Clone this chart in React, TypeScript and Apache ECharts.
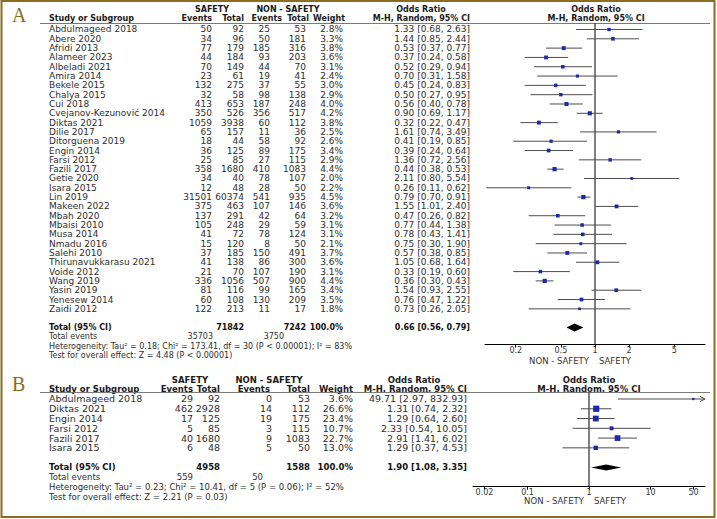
import React, { useEffect, useRef } from "react";
import * as echarts from "echarts";

// ---------- Panel A data ----------
const studiesA = [
  "Abdulmageed 2018", "Abere 2020", "Afridi 2013", "Alameer 2023", "Albeladi 2021", "Amira 2014",
  "Bekele 2015", "Chalya 2015", "Cui 2018", "Cvejanov-Kezunović 2014", "Diktas 2021", "Dilie 2017",
  "Ditorguena 2019", "Engin 2014", "Farsi 2012", "Fazili 2017", "Getie 2020", "Isara 2015", "Lin 2019",
  "Makeen 2022", "Mbah 2020", "Mbaisi 2010", "Musa 2014", "Nmadu 2016", "Salehi 2010",
  "Thirunavukkarasu 2021", "Voide 2012", "Wang 2019", "Yasin 2019", "Yenesew 2014", "Zaidi 2012",
];
const safeEventsA = [50, 34, 77, 44, 70, 23, 132, 32, 413, 350, 1059, 65, 18, 36, 25, 358, 34, 12, 31501, 375, 137, 105, 41, 15, 37, 41, 21, 336, 81, 60, 122];
const safeTotalA = [92, 96, 179, 184, 149, 61, 275, 58, 653, 526, 3938, 157, 44, 125, 85, 1680, 40, 48, 60374, 463, 291, 248, 72, 120, 185, 138, 70, 1056, 116, 108, 213];
const nonEventsA = [25, 50, 185, 93, 44, 19, 37, 98, 187, 356, 60, 11, 58, 89, 27, 410, 78, 28, 541, 107, 42, 29, 78, 8, 150, 86, 107, 507, 99, 130, 11];
const nonTotalA = [53, 181, 316, 203, 70, 41, 55, 138, 248, 517, 112, 36, 92, 175, 115, 1083, 107, 50, 935, 146, 64, 59, 124, 50, 491, 300, 190, 900, 165, 209, 17];
const weightA = [2.8, 3.3, 3.8, 3.6, 3.1, 2.4, 3.0, 2.9, 4.0, 4.2, 3.8, 2.5, 2.6, 3.4, 2.9, 4.4, 2.0, 2.2, 4.5, 3.6, 3.2, 3.1, 3.1, 2.1, 3.7, 3.6, 3.1, 4.4, 3.4, 3.5, 1.8];
const orA = [1.33, 1.44, 0.53, 0.37, 0.52, 0.70, 0.45, 0.50, 0.56, 0.90, 0.32, 1.61, 0.41, 0.39, 1.36, 0.44, 2.11, 0.26, 0.79, 1.55, 0.47, 0.77, 0.78, 0.75, 0.57, 1.05, 0.33, 0.36, 1.54, 0.76, 0.73];
const loA = [0.68, 0.85, 0.37, 0.24, 0.29, 0.31, 0.24, 0.27, 0.40, 0.69, 0.22, 0.74, 0.19, 0.24, 0.72, 0.38, 0.80, 0.11, 0.70, 1.01, 0.26, 0.44, 0.43, 0.30, 0.38, 0.68, 0.19, 0.30, 0.93, 0.47, 0.26];
const hiA = [2.63, 2.44, 0.77, 0.58, 0.94, 1.58, 0.83, 0.95, 0.78, 1.17, 0.47, 3.49, 0.85, 0.64, 2.56, 0.53, 5.54, 0.62, 0.91, 2.40, 0.82, 1.38, 1.41, 1.90, 0.85, 1.64, 0.60, 0.43, 2.55, 1.22, 2.05];
const totalOrA = [0.66, 0.56, 0.79];
const totalNA = [71842, 7242];
const totalEventsA = [35703, 3750];
const hetA = "Heterogeneity: Tau² = 0.18; Chi² = 173.41, df = 30 (P < 0.00001); I² = 83%";
const testA = "Test for overall effect: Z = 4.48 (P < 0.00001)";
const ticksA = [0.2, 0.5, 1, 2, 5];

// ---------- Panel B data ----------
const studiesB = ["Abdulmageed 2018", "Diktas 2021", "Engin 2014", "Farsi 2012", "Fazili 2017", "Isara 2015"];
const safeEventsB = [29, 462, 17, 5, 40, 6];
const safeTotalB = [92, 2928, 125, 85, 1680, 48];
const nonEventsB = [0, 14, 19, 3, 9, 5];
const nonTotalB = [53, 112, 175, 115, 1083, 50];
const weightB = [3.6, 26.6, 23.4, 10.7, 22.7, 13.0];
const orB = [49.71, 1.31, 1.29, 2.33, 2.91, 1.29];
const loB = [2.97, 0.74, 0.64, 0.54, 1.41, 0.37];
const hiB = [832.93, 2.32, 2.60, 10.05, 6.02, 4.53];
const totalOrB = [1.90, 1.08, 3.35];
const totalNB = [4958, 1588];
const totalEventsB = [559, 50];
const hetB = "Heterogeneity: Tau² = 0.23; Chi² = 10.41, df = 5 (P = 0.06); I² = 52%";
const testB = "Test for overall effect: Z = 2.21 (P = 0.03)";
const ticksB = [0.02, 0.1, 1, 10, 50];

// ---------- styling / layout ----------
const FF = '"DejaVu Sans", sans-serif';
const GOLD = "#8c6c1e";
const TXT = "#2e2e2e";

const f2 = (v: number) => v.toFixed(2);
const orText = (o: number, l: number, h: number) => `${f2(o)} [${f2(l)}, ${f2(h)}]`;

function txt(x: number, y: number, text: string, align: string, font: string, fill = TXT): any {
  return {
    type: "text",
    x,
    y,
    silent: true,
    style: { text, font, fill, align, textAlign: align, verticalAlign: "middle", textVerticalAlign: "middle" },
  };
}

const panelA = {
  names: studiesA, se: safeEventsA, st: safeTotalA, ne: nonEventsA, nt: nonTotalA, w: weightA,
  or: orA, lo: loA, hi: hiA, tot: totalOrA, totN: totalNA, totE: totalEventsA, het: hetA, test: testA,
  cols: { name: 49, se: 212, st: 244, ne: 270, nt: 306, w: 343, or: 470, totEse: 213, totEne: 284 },
  k: 2.0, rowFont: `9px ${FF}`, boldFont: `bold 8px ${FF}`, footFont: `8px ${FF}`,
  yMin: -0.644, yMax: 33.83, dh: 4,
};
const panelB = {
  names: studiesB, se: safeEventsB, st: safeTotalB, ne: nonEventsB, nt: nonTotalB, w: weightB,
  or: orB, lo: loB, hi: hiB, tot: totalOrB, totN: totalNB, totE: totalEventsB, het: hetB, test: testB,
  cols: { name: 49, se: 193, st: 220, ne: 272, nt: 310, w: 353, or: 467, totEse: 193, totEne: 263 },
  k: 1.2, rowFont: `9.5px ${FF}`, boldFont: `bold 8.5px ${FF}`, footFont: `8.5px ${FF}`,
  yMin: -0.665, yMax: 8.976, dh: 3,
};

function studyRender(p: any) {
  return (params: any, api: any) => {
    const i = params.dataIndex;
    const cs = params.coordSys;
    const y = api.coord([0, api.value(3)])[1];
    const xo = api.coord([api.value(0), 0])[0];
    const xlRaw = api.coord([api.value(1), 0])[0];
    const xhRaw = api.coord([api.value(2), 0])[0];
    const L = cs.x, R = cs.x + cs.width;
    const xl = Math.max(L, xlRaw), xh = Math.min(R, xhRaw);
    const ch: any[] = [];
    ch.push({ type: "line", shape: { x1: xl, y1: y, x2: xh, y2: y }, style: { stroke: "#4d4d4d", lineWidth: 1 } });
    if (xhRaw > R) {
      ch.push({ type: "polyline", shape: { points: [[R - 5, y - 2.5], [R, y], [R - 5, y + 2.5]] }, style: { stroke: "#4d4d4d", lineWidth: 1, fill: null } });
    }
    const s = p.k * Math.sqrt(p.w[i]);
    ch.push({ type: "rect", shape: { x: xo - s / 2, y: y - s / 2, width: s, height: s }, style: { fill: "#1d28a8" } });
    const c = p.cols;
    ch.push(txt(c.name, y, p.names[i], "left", p.rowFont));
    ch.push(txt(c.se, y, String(p.se[i]), "right", p.rowFont));
    ch.push(txt(c.st, y, String(p.st[i]), "right", p.rowFont));
    ch.push(txt(c.ne, y, String(p.ne[i]), "right", p.rowFont));
    ch.push(txt(c.nt, y, String(p.nt[i]), "right", p.rowFont));
    ch.push(txt(c.w, y, p.w[i].toFixed(1) + "%", "right", p.rowFont));
    ch.push(txt(c.or, y, orText(p.or[i], p.lo[i], p.hi[i]), "right", p.rowFont));
    return { type: "group", children: ch };
  };
}

function totalRender(p: any) {
  return (params: any, api: any) => {
    const r = api.value(3);
    const y = api.coord([0, r])[1];
    const xo = api.coord([api.value(0), 0])[0];
    const xl = api.coord([api.value(1), 0])[0];
    const xh = api.coord([api.value(2), 0])[0];
    const x0 = api.coord([0, 0])[0];
    const top = api.coord([0, p.yMin])[1];
    const bot = api.coord([0, p.yMax])[1];
    const c = p.cols;
    const ch: any[] = [];
    ch.push({ type: "line", shape: { x1: x0, y1: top, x2: x0, y2: bot }, style: { stroke: "#000", lineWidth: 1 } });
    ch.push({ type: "polygon", shape: { points: [[xl, y], [xo, y - p.dh], [xh, y], [xo, y + p.dh]] }, style: { fill: "#000" } });
    ch.push(txt(c.name, y, "Total (95% CI)", "left", p.boldFont, "#111"));
    ch.push(txt(c.st, y, String(p.totN[0]), "right", p.boldFont, "#111"));
    ch.push(txt(c.nt, y, String(p.totN[1]), "right", p.boldFont, "#111"));
    ch.push(txt(c.w, y, "100.0%", "right", p.boldFont, "#111"));
    ch.push(txt(c.or, y, orText(p.tot[0], p.tot[1], p.tot[2]), "right", p.boldFont, "#111"));
    const y1 = api.coord([0, r + 1])[1];
    const y2 = api.coord([0, r + 2])[1];
    const y3 = api.coord([0, r + 3])[1];
    ch.push(txt(c.name, y1, "Total events", "left", p.footFont));
    ch.push(txt(c.totEse, y1, String(p.totE[0]), "right", p.footFont));
    ch.push(txt(c.totEne, y1, String(p.totE[1]), "right", p.footFont));
    ch.push(txt(c.name, y2, p.het, "left", p.footFont));
    ch.push(txt(c.name, y3, p.test, "left", p.footFont));
    return { type: "group", children: ch };
  };
}

const lg = (v: number) => Math.log10(v);
const tickFmt = (v: number) => String(parseFloat(Math.pow(10, v).toPrecision(2)));

function xAxisFor(gridIndex: number, min: number, max: number, ticks: number[]) {
  const cv = ticks.map(lg);
  return {
    gridIndex, type: "value", min, max, position: "bottom",
    axisLine: { show: true, onZero: false, lineStyle: { color: "#000", width: 1 } },
    axisTick: { show: true, customValues: cv, length: 3, lineStyle: { color: "#000" } },
    axisLabel: { show: true, customValues: cv, formatter: tickFmt, fontSize: 8, fontFamily: FF, color: "#333", margin: 1.5 },
    splitLine: { show: false },
  };
}

function header(y1: number, y2: number, lineY: number, cfg: any) {
  const b = (x: number, y: number, t: string, a: string) => txt(x, y, t, a, cfg.font, "#1a1a1a");
  return [
    b(cfg.safeC, y1, "SAFETY", "center"),
    b(cfg.nonC, y1, "NON - SAFETY", "center"),
    b(cfg.orC, y1, "Odds Ratio", "center"),
    b(cfg.plotC, y1, "Odds Ratio", "center"),
    b(49, y2, "Study or Subgroup", "left"),
    b(cfg.se, y2, "Events", "right"),
    b(cfg.st, y2, "Total", "right"),
    b(cfg.ne, y2, "Events", "right"),
    b(cfg.nt, y2, "Total", "right"),
    b(cfg.w, y2, "Weight", "right"),
    b(cfg.or, y2, "M-H, Random, 95% CI", "right"),
    b(cfg.plotC, y2, "M-H, Random, 95% CI", "center"),
    { type: "line", silent: true, shape: { x1: 40, y1: lineY, x2: 710, y2: lineY }, style: { stroke: "#7a7a7a", lineWidth: 1 } },
  ];
}

export default function App() {
  const ref = useRef<HTMLDivElement>(null);
  useEffect(() => {
    if (!ref.current) return;
    const chart = echarts.init(ref.current, undefined, { renderer: "svg" });
    const dataA = orA.map((o, i) => [lg(o), lg(loA[i]), lg(hiA[i]), i]);
    const dataB = orB.map((o, i) => [lg(o), lg(loB[i]), lg(hiB[i]), i]);
    const totA = [[lg(totalOrA[0]), lg(totalOrA[1]), lg(totalOrA[2]), studiesA.length + 1]];
    const totB = [[lg(totalOrB[0]), lg(totalOrB[1]), lg(totalOrB[2]), studiesB.length + 1]];
    const enc = { x: [0, 1, 2], y: 3 };
    const labFont = `8.5px ${FF}`;
    const option: any = {
      animation: false,
      backgroundColor: "#ffffff",
      grid: [
        { left: 485, top: 23.5, width: 220, height: 321 },
        { left: 473, top: 392.5, width: 232, height: 94.2 },
      ],
      xAxis: [xAxisFor(0, -0.97, 0.97, ticksA), xAxisFor(1, -1.886, 1.886, ticksB)],
      yAxis: [
        { gridIndex: 0, type: "value", inverse: true, min: panelA.yMin, max: panelA.yMax, show: false },
        { gridIndex: 1, type: "value", inverse: true, min: panelB.yMin, max: panelB.yMax, show: false },
      ],
      series: [
        { type: "custom", xAxisIndex: 0, yAxisIndex: 0, data: totA, encode: enc, renderItem: totalRender(panelA), clip: false, silent: true },
        { type: "custom", xAxisIndex: 0, yAxisIndex: 0, data: dataA, encode: enc, renderItem: studyRender(panelA), clip: false, silent: true },
        { type: "custom", xAxisIndex: 1, yAxisIndex: 1, data: totB, encode: enc, renderItem: totalRender(panelB), clip: false, silent: true },
        { type: "custom", xAxisIndex: 1, yAxisIndex: 1, data: dataB, encode: enc, renderItem: studyRender(panelB), clip: false, silent: true },
      ],
      graphic: [
        ...header(9.5, 18.5, 23.5, { font: `bold 8px ${FF}`, safeC: 212, nonC: 288, orC: 421, plotC: 596, se: 212, st: 244, ne: 282, nt: 309, w: 345, or: 470 }),
        ...header(380, 388.5, 392.5, { font: `bold 8.5px ${FF}`, safeC: 190, nonC: 269, orC: 414, plotC: 589, se: 193, st: 220, ne: 270, nt: 310, w: 353, or: 467 }),
        txt(589, 361, "NON - SAFETY", "right", labFont, "#333"),
        txt(599, 361, "SAFETY", "left", labFont, "#333"),
        txt(584, 501, "NON - SAFETY", "right", labFont, "#333"),
        txt(594, 501, "SAFETY", "left", labFont, "#333"),
        txt(12, 15, "A", "left", `20px "Liberation Serif", serif`, GOLD),
        txt(12, 384, "B", "left", `20px "Liberation Serif", serif`, GOLD),
        { type: "rect", silent: true, z: 100, shape: { x: 1.5, y: 1, width: 713, height: 516 }, style: { fill: "rgba(0,0,0,0)", stroke: GOLD, lineWidth: 2 } },
      ],
    };
    chart.setOption(option);
    return () => chart.dispose();
  }, []);
  return <div ref={ref} style={{ position: "absolute", left: 0, top: 0, width: 717, height: 519, background: "#fff" }} />;
}
